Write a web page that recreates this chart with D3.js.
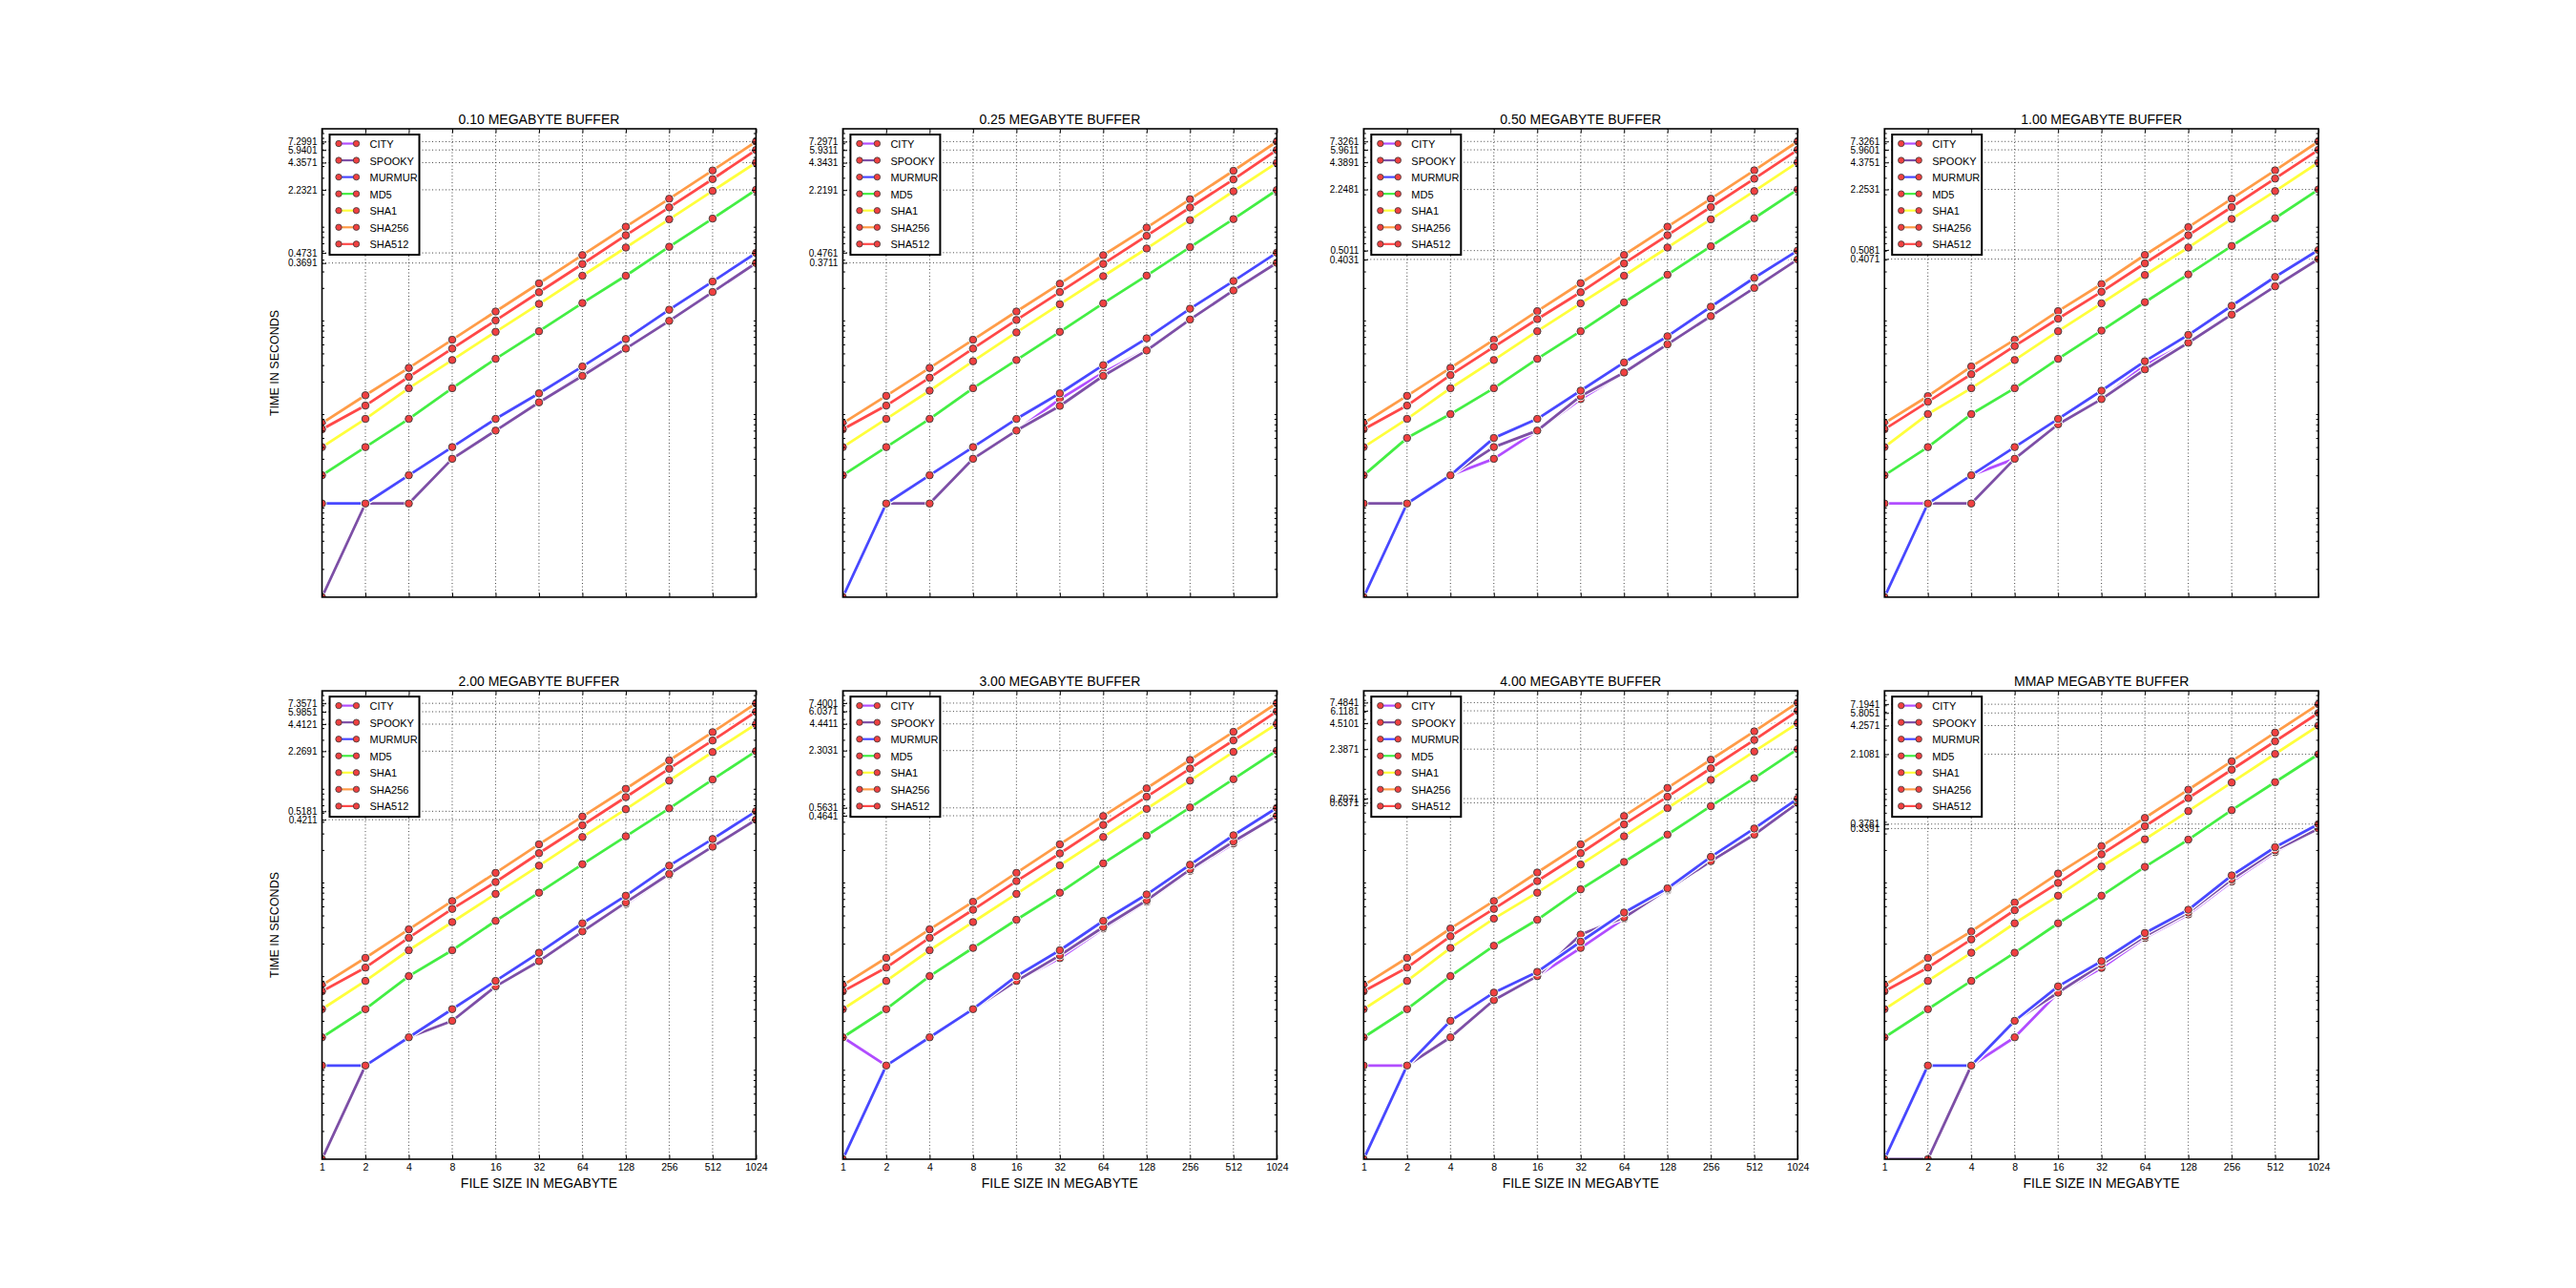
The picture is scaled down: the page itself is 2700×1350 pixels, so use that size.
<!DOCTYPE html>
<html>
<head>
<meta charset="utf-8">
<script src="https://cdn.jsdelivr.net/npm/d3@7"></script>
<style>
	body { margin: 0; background: #fff; }
	text { font-family: "Liberation Sans", "DejaVu Sans", sans-serif; fill: #000; }
</style>
</head>
<body>
<svg id="chart" width="2700" height="1350"></svg>
<script>
// one panel per read buffer size
var buffers = ["0.10", "0.25", "0.50", "1.00", "2.00", "3.00", "4.00", "MMAP"];
// file size in megabyte (x axis, log base 2)
var fileSizes = [1, 2, 4, 8, 16, 32, 64, 128, 256, 512, 1024];
var seriesNames = ["CITY", "SPOOKY", "MURMUR", "MD5", "SHA1", "SHA256", "SHA512"];
var seriesColors = ["#b14dff", "#7d4fa6", "#4848ff", "#44ee44", "#ffff3c", "#ff9c48", "#ff4848"];

// time in seconds, one row per buffer panel, one value per file size
var city = [
	[0.0001, 0.001, 0.001, 0.003, 0.006, 0.012, 0.024, 0.046, 0.090, 0.182, 0.369],
	[0.0001, 0.001, 0.001, 0.003, 0.006, 0.013, 0.025, 0.044, 0.092, 0.190, 0.371],
	[0.001, 0.001, 0.002, 0.003, 0.006, 0.013, 0.025, 0.050, 0.100, 0.200, 0.403],
	[0.001, 0.001, 0.002, 0.003, 0.007, 0.013, 0.030, 0.052, 0.104, 0.208, 0.407],
	[0.0001, 0.001, 0.002, 0.003, 0.007, 0.013, 0.027, 0.053, 0.108, 0.217, 0.421],
	[0.002, 0.001, 0.002, 0.004, 0.008, 0.014, 0.029, 0.056, 0.120, 0.235, 0.464],
	[0.001, 0.001, 0.002, 0.005, 0.009, 0.018, 0.037, 0.074, 0.150, 0.290, 0.637],
	[0.0001, 0.0001, 0.001, 0.002, 0.006, 0.011, 0.023, 0.041, 0.092, 0.190, 0.339]
];
var spooky = [
	[0.0001, 0.001, 0.001, 0.003, 0.006, 0.012, 0.023, 0.045, 0.089, 0.181, 0.369],
	[0.0001, 0.001, 0.001, 0.003, 0.006, 0.011, 0.023, 0.043, 0.092, 0.188, 0.371],
	[0.001, 0.001, 0.002, 0.004, 0.006, 0.014, 0.025, 0.050, 0.100, 0.200, 0.403],
	[0.0001, 0.001, 0.001, 0.003, 0.007, 0.013, 0.027, 0.052, 0.104, 0.208, 0.407],
	[0.0001, 0.001, 0.002, 0.003, 0.007, 0.013, 0.027, 0.055, 0.111, 0.217, 0.421],
	[0.0001, 0.001, 0.002, 0.004, 0.008, 0.015, 0.030, 0.058, 0.124, 0.246, 0.464],
	[0.0001, 0.001, 0.002, 0.005, 0.009, 0.025, 0.038, 0.076, 0.152, 0.292, 0.637],
	[0.0001, 0.0001, 0.001, 0.003, 0.006, 0.012, 0.024, 0.043, 0.097, 0.198, 0.339]
];
var murmur = [
	[0.001, 0.001, 0.002, 0.004, 0.008, 0.015, 0.029, 0.057, 0.117, 0.234, 0.473],
	[0.0001, 0.001, 0.002, 0.004, 0.008, 0.015, 0.030, 0.058, 0.120, 0.237, 0.476],
	[0.0001, 0.001, 0.002, 0.005, 0.008, 0.016, 0.032, 0.061, 0.126, 0.256, 0.501],
	[0.0001, 0.001, 0.002, 0.004, 0.008, 0.016, 0.033, 0.063, 0.129, 0.262, 0.508],
	[0.001, 0.001, 0.002, 0.004, 0.008, 0.016, 0.033, 0.065, 0.136, 0.262, 0.518],
	[0.0001, 0.001, 0.002, 0.004, 0.009, 0.017, 0.035, 0.067, 0.139, 0.287, 0.563],
	[0.0001, 0.001, 0.003, 0.006, 0.010, 0.021, 0.043, 0.078, 0.169, 0.339, 0.707],
	[0.0001, 0.001, 0.001, 0.003, 0.007, 0.013, 0.026, 0.046, 0.107, 0.214, 0.378]
];
var md5 = [
	[0.002, 0.004, 0.008, 0.017, 0.035, 0.069, 0.138, 0.270, 0.550, 1.10, 2.232],
	[0.002, 0.004, 0.008, 0.017, 0.034, 0.068, 0.137, 0.271, 0.545, 1.086, 2.219],
	[0.002, 0.005, 0.009, 0.017, 0.035, 0.069, 0.140, 0.277, 0.557, 1.11, 2.248],
	[0.002, 0.004, 0.009, 0.017, 0.035, 0.070, 0.141, 0.279, 0.561, 1.11, 2.253],
	[0.002, 0.004, 0.009, 0.017, 0.035, 0.070, 0.141, 0.280, 0.556, 1.13, 2.269],
	[0.002, 0.004, 0.009, 0.018, 0.036, 0.070, 0.144, 0.285, 0.569, 1.14, 2.303],
	[0.002, 0.004, 0.009, 0.019, 0.036, 0.076, 0.149, 0.292, 0.588, 1.17, 2.387],
	[0.002, 0.004, 0.008, 0.016, 0.033, 0.065, 0.132, 0.258, 0.532, 1.06, 2.108]
];
var sha1 = [
	[0.004, 0.008, 0.017, 0.034, 0.068, 0.135, 0.270, 0.540, 1.08, 2.17, 4.357],
	[0.004, 0.008, 0.016, 0.033, 0.067, 0.134, 0.267, 0.527, 1.06, 2.15, 4.343],
	[0.004, 0.008, 0.017, 0.034, 0.069, 0.137, 0.270, 0.540, 1.08, 2.16, 4.389],
	[0.004, 0.009, 0.017, 0.034, 0.069, 0.137, 0.275, 0.540, 1.09, 2.16, 4.375],
	[0.004, 0.008, 0.017, 0.034, 0.068, 0.136, 0.275, 0.545, 1.10, 2.22, 4.412],
	[0.004, 0.008, 0.017, 0.034, 0.068, 0.137, 0.275, 0.550, 1.10, 2.23, 4.441],
	[0.004, 0.008, 0.018, 0.037, 0.070, 0.140, 0.280, 0.560, 1.12, 2.25, 4.510],
	[0.004, 0.008, 0.016, 0.033, 0.065, 0.133, 0.260, 0.520, 1.05, 2.12, 4.257]
];
var sha256 = [
	[0.0072, 0.0143, 0.028, 0.056, 0.112, 0.224, 0.448, 0.90, 1.79, 3.59, 7.299],
	[0.0072, 0.0141, 0.028, 0.056, 0.112, 0.222, 0.447, 0.88, 1.77, 3.56, 7.297],
	[0.0072, 0.0141, 0.028, 0.056, 0.113, 0.225, 0.450, 0.90, 1.79, 3.60, 7.326],
	[0.0072, 0.0140, 0.029, 0.056, 0.113, 0.220, 0.450, 0.89, 1.79, 3.60, 7.326],
	[0.0072, 0.0141, 0.0284, 0.057, 0.114, 0.230, 0.455, 0.90, 1.81, 3.62, 7.357],
	[0.0072, 0.0141, 0.0284, 0.056, 0.114, 0.230, 0.460, 0.91, 1.83, 3.65, 7.400],
	[0.0072, 0.0141, 0.029, 0.057, 0.115, 0.230, 0.460, 0.92, 1.84, 3.69, 7.484],
	[0.0072, 0.0141, 0.027, 0.055, 0.112, 0.220, 0.440, 0.88, 1.77, 3.58, 7.194]
];
var sha512 = [
	[0.0062, 0.0111, 0.0225, 0.045, 0.090, 0.180, 0.360, 0.730, 1.450, 2.90, 5.940],
	[0.0062, 0.0111, 0.0220, 0.045, 0.091, 0.181, 0.361, 0.720, 1.445, 2.88, 5.931],
	[0.0062, 0.0111, 0.0235, 0.047, 0.093, 0.180, 0.365, 0.730, 1.460, 2.93, 5.961],
	[0.0062, 0.0122, 0.0240, 0.048, 0.094, 0.182, 0.366, 0.730, 1.460, 2.94, 5.960],
	[0.0062, 0.0111, 0.0231, 0.047, 0.091, 0.185, 0.367, 0.733, 1.476, 2.95, 5.985],
	[0.0062, 0.0111, 0.0231, 0.046, 0.093, 0.184, 0.370, 0.740, 1.480, 2.96, 6.037],
	[0.0062, 0.0111, 0.0240, 0.047, 0.093, 0.185, 0.375, 0.740, 1.490, 2.99, 6.118],
	[0.0062, 0.0111, 0.0222, 0.0455, 0.089, 0.180, 0.359, 0.716, 1.440, 2.89, 5.805]
];

// y tick labels shown on each panel (the last value of each series)
var yTickLabels = [
	["7.2991", "5.9401", "4.3571", "2.2321", "0.4731", "0.3691"],
	["7.2971", "5.9311", "4.3431", "2.2191", "0.4761", "0.3711"],
	["7.3261", "5.9611", "4.3891", "2.2481", "0.5011", "0.4031"],
	["7.3261", "5.9601", "4.3751", "2.2531", "0.5081", "0.4071"],
	["7.3571", "5.9851", "4.4121", "2.2691", "0.5181", "0.4211"],
	["7.4001", "6.0371", "4.4411", "2.3031", "0.5631", "0.4641"],
	["7.4841", "6.1181", "4.5101", "2.3871", "0.7071", "0.6371"],
	["7.1941", "5.8051", "4.2571", "2.1081", "0.3781", "0.3391"]
];

var seriesData = [city, spooky, murmur, md5, sha1, sha256, sha512];

// figure layout (matplotlib default subplot params on 2700x1350)
var figLeft = 337.5, figTop = 135;
var plotW = 454.9, plotH = 490.9;
var gapX = 91, gapY = 98.2;

var svg = d3.select('#chart');

svg.append('defs').append('clipPath')
	.attr('id', 'plotClip')
	.append('rect')
	.attr('x', 0)
	.attr('y', 0)
	.attr('width', plotW)
	.attr('height', plotH);

// minor log ticks 2..9 for every decade
var minorTicks = [];
for (var e = -4; e <= 0; e++) {
	for (var m = 2; m <= 9; m++) {
		minorTicks.push(m * Math.pow(10, e));
	}
}

function drawPanel(i) {
	var col = i % 4, row = Math.floor(i / 4);
	var g = svg.append('g')
		.attr('transform', 'translate(' + (figLeft + col * (plotW + gapX)) + ',' + (figTop + row * (plotH + gapY)) + ')');

	var x = d3.scaleLog().base(2).domain([1, 1024]).range([0, plotW]);
	var y = d3.scaleLog().domain([1e-4, 10]).range([plotH, 0]);
	var majors = yTickLabels[i].map(parseFloat);

	//dotted grid
	var grid = g.append('g')
		.style('stroke', '#444')
		.style('stroke-width', 1)
		.style('stroke-dasharray', '1,2.5');
	grid.selectAll('.vgrid').data(fileSizes.slice(1, -1)).join('line')
		.attr('class', 'vgrid')
		.attr('x1', function(d) { return x(d); })
		.attr('x2', function(d) { return x(d); })
		.attr('y1', 0)
		.attr('y2', plotH);
	grid.selectAll('.hgrid').data(majors).join('line')
		.attr('class', 'hgrid')
		.attr('x1', 0)
		.attr('x2', plotW)
		.attr('y1', function(d) { return y(d); })
		.attr('y2', function(d) { return y(d); });

	//series, each with white outline, then its markers
	var plot = g.append('g').attr('clip-path', 'url(#plotClip)');
	var line = d3.line()
		.x(function(d) { return x(d[0]); })
		.y(function(d) { return y(d[1]); });
	seriesData.forEach(function(s, k) {
		var pts = fileSizes.map(function(f, j) { return [f, s[i][j]]; });
		plot.append('path')
			.attr('d', line(pts))
			.style('fill', 'none')
			.style('stroke', '#fff')
			.style('stroke-width', 5.4)
			.style('stroke-linejoin', 'round');
		plot.append('path')
			.attr('d', line(pts))
			.style('fill', 'none')
			.style('stroke', seriesColors[k])
			.style('stroke-width', 2.8)
			.style('stroke-linejoin', 'round');
		var dots = plot.append('g');
		dots.selectAll('.halo').data(pts).join('circle')
			.attr('class', 'halo')
			.attr('cx', function(d) { return x(d[0]); })
			.attr('cy', function(d) { return y(d[1]); })
			.attr('r', 5)
			.style('fill', '#fff');
		dots.selectAll('.dot').data(pts).join('circle')
			.attr('class', 'dot')
			.attr('cx', function(d) { return x(d[0]); })
			.attr('cy', function(d) { return y(d[1]); })
			.attr('r', 3.8)
			.style('fill', '#f04040')
			.style('stroke', '#3a3a3a')
			.style('stroke-width', 0.9);
	});

	//ticks, all pointing inward
	function cleanAxis(a) {
		a.select('.domain').remove();
		a.selectAll('line').style('stroke', '#000').style('stroke-width', 1);
	}
	g.append('g')
		.call(d3.axisLeft(y).tickValues(minorTicks).tickSize(-2.5).tickFormat(''))
		.call(cleanAxis);
	g.append('g')
		.attr('transform', 'translate(' + plotW + ',0)')
		.call(d3.axisRight(y).tickValues(minorTicks).tickSize(-2.5).tickFormat(''))
		.call(cleanAxis);
	var yMajor = g.append('g')
		.call(d3.axisLeft(y).tickValues(majors).tickSize(-4.5).tickPadding(5)
			.tickFormat(function(d, j) { return yTickLabels[i][j]; }))
		.call(cleanAxis);
	yMajor.selectAll('text').style('font-size', '10px');
	g.append('g')
		.attr('transform', 'translate(' + plotW + ',0)')
		.call(d3.axisRight(y).tickValues(majors).tickSize(-4.5).tickFormat(''))
		.call(cleanAxis);
	g.append('g')
		.call(d3.axisTop(x).tickValues(fileSizes).tickSize(-4.5).tickFormat(''))
		.call(cleanAxis);
	var xAxis = g.append('g')
		.attr('transform', 'translate(0,' + plotH + ')')
		.call(d3.axisBottom(x).tickValues(fileSizes).tickSize(-4.5).tickPadding(5)
			.tickFormat(row == 1 ? d3.format('d') : ''))
		.call(cleanAxis);
	xAxis.selectAll('text').style('font-size', '10.5px');

	//frame
	g.append('rect')
		.attr('width', plotW)
		.attr('height', plotH)
		.style('fill', 'none')
		.style('stroke', '#000')
		.style('stroke-width', 1.6);

	//title
	g.append('text')
		.attr('x', plotW / 2)
		.attr('y', -5)
		.attr('text-anchor', 'middle')
		.style('font-size', '14px')
		.text(buffers[i] + ' MEGABYTE BUFFER');

	if (row == 1) {
		g.append('text')
			.attr('x', plotW / 2)
			.attr('y', plotH + 30)
			.attr('text-anchor', 'middle')
			.style('font-size', '14px')
			.text('FILE SIZE IN MEGABYTE');
	}
	if (col == 0) {
		g.append('text')
			.attr('transform', 'translate(-46,' + (plotH / 2) + ') rotate(-90)')
			.attr('text-anchor', 'middle')
			.style('font-size', '12.5px')
			.text('TIME IN SECONDS');
	}

	//legend, upper left
	var legend = g.append('g').attr('transform', 'translate(8,6)');
	legend.append('rect')
		.attr('width', 94)
		.attr('height', 126)
		.style('fill', '#fff')
		.style('stroke', '#000')
		.style('stroke-width', 2);
	seriesNames.forEach(function(name, k) {
		var ly = 9.5 + k * 17.55;
		legend.append('line')
			.attr('x1', 9.5)
			.attr('x2', 28)
			.attr('y1', ly)
			.attr('y2', ly)
			.style('stroke', seriesColors[k])
			.style('stroke-width', 2.2);
		legend.selectAll(null).data([9.5, 28]).join('circle')
			.attr('cx', function(d) { return d; })
			.attr('cy', ly)
			.attr('r', 3.2)
			.style('fill', '#f04040')
			.style('stroke', '#3a3a3a')
			.style('stroke-width', 0.8);
		legend.append('text')
			.attr('x', 42)
			.attr('y', ly + 4.5)
			.style('font-size', '11px')
			.text(name);
	});
}

buffers.forEach(function(b, i) {
	drawPanel(i);
});
</script>
</body>
</html>
